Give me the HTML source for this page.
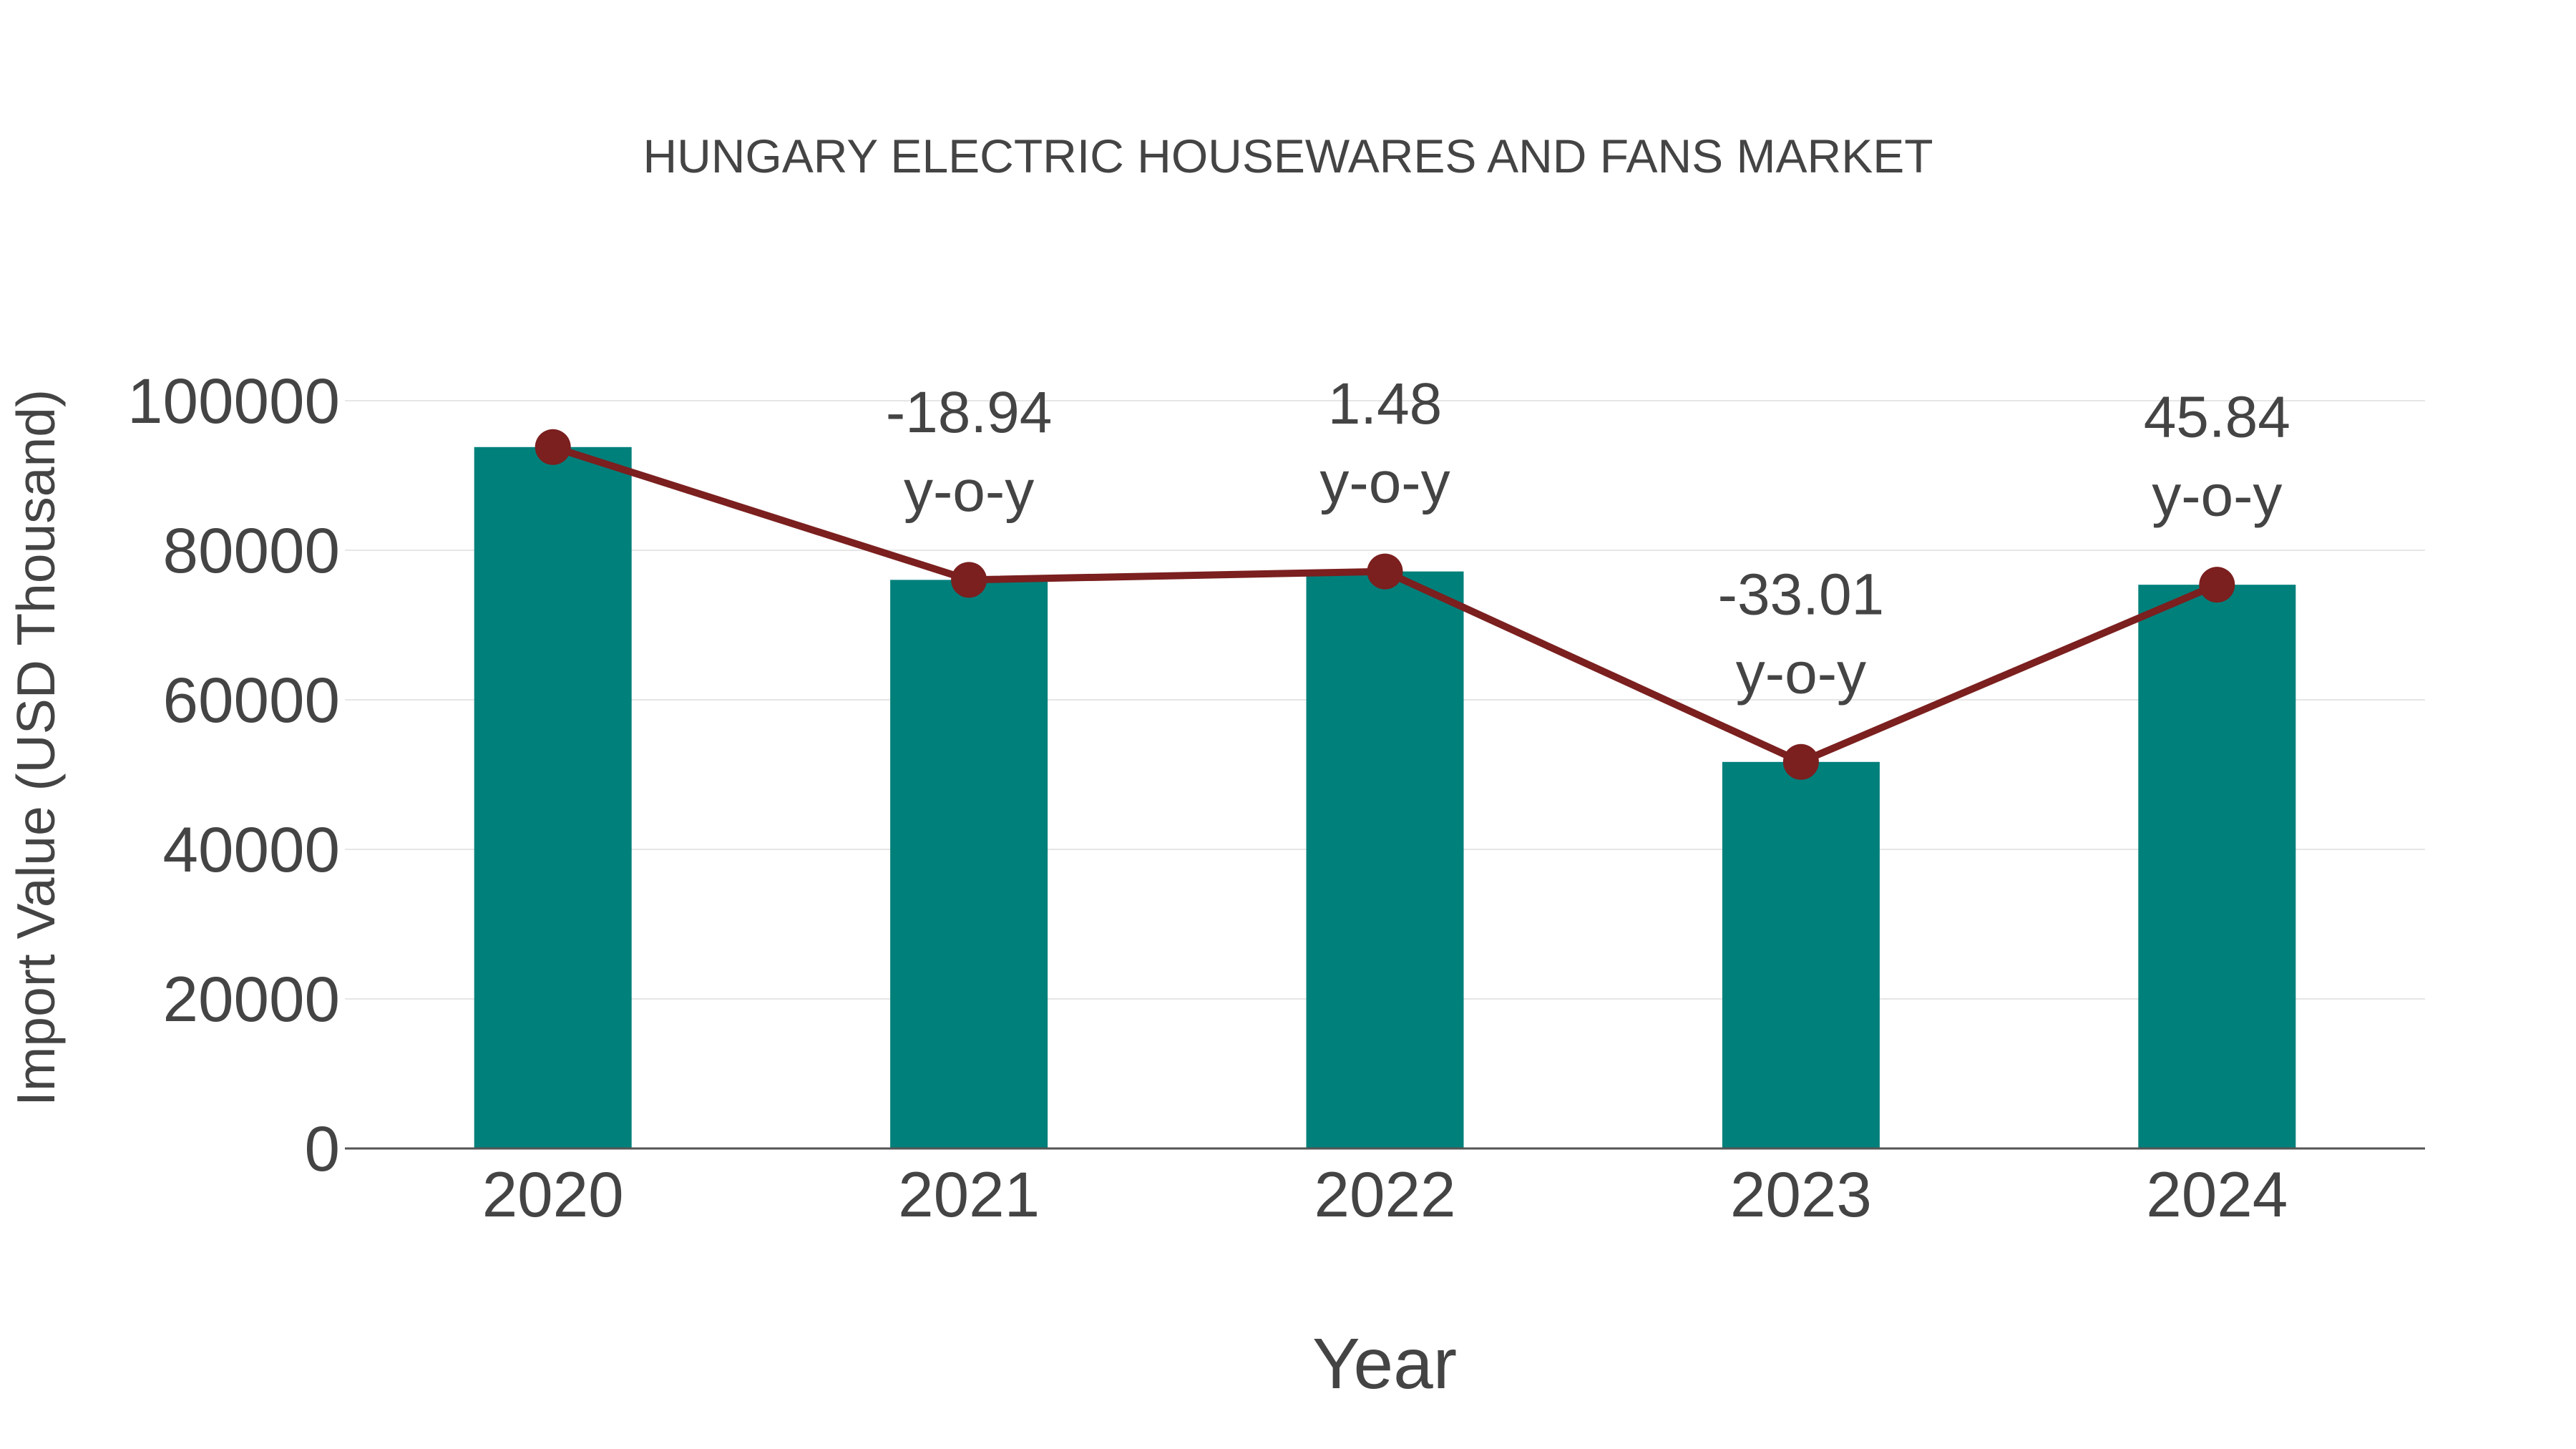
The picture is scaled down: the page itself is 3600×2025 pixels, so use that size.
<!DOCTYPE html>
<html><head><meta charset="utf-8"><style>
html,body{margin:0;padding:0;background:#fff;}
svg{display:block;font-family:"Liberation Sans",Arial,sans-serif;}
</style></head><body>
<svg id="chart" width="3600" height="2025" viewBox="0 0 3600 2025" xmlns="http://www.w3.org/2000/svg">
<rect width="3600" height="2025" fill="#fff"/>
<text x="1800" y="218" text-anchor="middle" dominant-baseline="central" font-size="66" fill="#444">HUNGARY ELECTRIC HOUSEWARES AND FANS MARKET</text>
<g id="grid"></g>
<g id="yticks"></g>
<g id="bars"></g>
<line x1="482" x2="3389" y1="1605" y2="1605" stroke="#555" stroke-width="3"/>
<g id="xticks"></g>
<g id="line"></g>
<g id="ann"></g>
<text x="1935" y="1906" text-anchor="middle" dominant-baseline="central" font-size="100" fill="#444">Year</text>
<text transform="translate(50,1045) rotate(-90)" text-anchor="middle" dominant-baseline="central" font-size="75" fill="#444">Import Value (USD Thousand)</text>
</svg>
<script>
const categories = ["2020","2021","2022","2023","2024"];
const values = [93800, 76040, 77165, 51693, 75390];
const yoyLabels = ["", "-18.94", "1.48", "-33.01", "45.84"];
const yTicks = [0, 20000, 40000, 60000, 80000, 100000];

const NS = "http://www.w3.org/2000/svg";
const left = 482, right = 3389, y0 = 1605, y100k = 560;
const band = (right - left) / categories.length;
function xScale(i){ return left + band * (i + 0.5); }
function yScale(v){ return y0 - (v / 100000) * (y0 - y100k); }
function mk(tag, attrs, parent){ const e = document.createElementNS(NS, tag); for (const k in attrs) e.setAttribute(k, attrs[k]); parent.appendChild(e); return e; }

const grid = document.getElementById('grid'), yt = document.getElementById('yticks');
yTicks.forEach(t => {
  if (t > 0) {
    const l = mk('line', {x1:left, x2:right, y1:yScale(t), y2:yScale(t), stroke:'#e6e6e6', 'stroke-width':2}, grid);
    
    
  }
  const tx = mk('text', {x:475, y:yScale(t), 'text-anchor':'end', 'dominant-baseline':'central', 'font-size':89, fill:'#444'}, yt);
  tx.textContent = t;
  
  
});

const bars = document.getElementById('bars'), xt = document.getElementById('xticks');
const bw = 220;
categories.forEach((c, i) => {
  const r = mk('rect', {x:xScale(i)-bw/2, y:yScale(values[i]), width:bw, height:y0-yScale(values[i]), fill:'#00807b'}, bars);
  
  
  const tx = mk('text', {x:xScale(i), y:1669, 'text-anchor':'middle', 'dominant-baseline':'central', 'font-size':89, fill:'#444'}, xt);
  tx.textContent = c;
  
  
});

const lg = document.getElementById('line');
const pts = values.map((v, i) => xScale(i) + ',' + yScale(v)).join(' ');
const pl = mk('polyline', {points:pts, fill:'none', stroke:'#7b1f1f', 'stroke-width':10, 'stroke-linejoin':'round'}, lg);


values.forEach((v, i) => {
  const c = mk('circle', {cx:xScale(i), cy:yScale(v), r:25, fill:'#7b1f1f'}, lg);
  
  
});

const ann = document.getElementById('ann');
yoyLabels.forEach((s, i) => {
  if (!s) return;
  const py = yScale(values[i]);
  const a = mk('text', {x:xScale(i), y:py-234, 'text-anchor':'middle', 'dominant-baseline':'central', 'font-size':82, fill:'#444'}, ann);
  a.textContent = s;
  
  
  const b = mk('text', {x:xScale(i), y:py-124, 'text-anchor':'middle', 'dominant-baseline':'central', 'font-size':82, fill:'#444'}, ann);
  b.textContent = 'y-o-y';
  
  
});
</script>
</body></html>
